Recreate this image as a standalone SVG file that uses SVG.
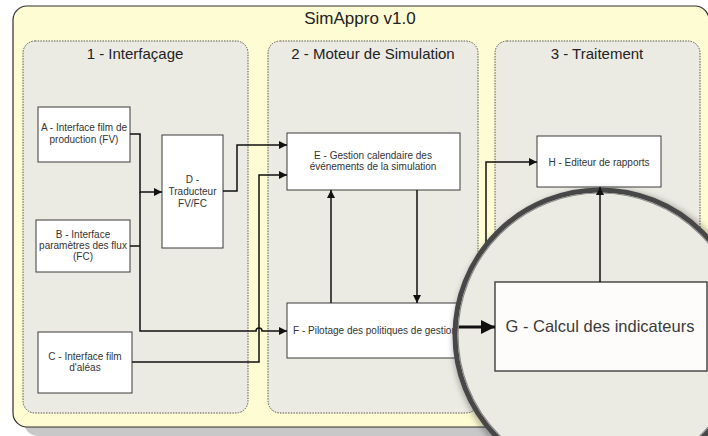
<svg xmlns="http://www.w3.org/2000/svg" width="708" height="436" viewBox="0 0 708 436">
  <defs>
    <style>
      .panel { fill: #ecebe3; stroke: #555; stroke-width: 1; stroke-dasharray: 1.5 1.2; }
      .box { fill: #ffffff; stroke: #3a3a3a; stroke-width: 1; }
      .ptitle { font-family: "Liberation Sans", Arial, sans-serif; font-size: 15px; fill: #222; text-anchor: middle; }
      .btxt { font-family: "Liberation Sans", Arial, sans-serif; font-size: 10px; fill: #333; text-anchor: middle; }
      .btxt.left { text-anchor: start; }
      .conn { fill: none; stroke: #111; stroke-width: 1.5; }
    </style>
    <marker id="arr" viewBox="0 0 10 10" refX="10" refY="5" markerWidth="10" markerHeight="8" markerUnits="userSpaceOnUse" orient="auto">
      <path d="M0,0 L10,5 L0,10 z" fill="#111"/>
    </marker>
    <marker id="bigarr" viewBox="0 0 10 10" refX="10" refY="5" markerWidth="16" markerHeight="14" markerUnits="userSpaceOnUse" orient="auto">
      <path d="M0,0 L10,5 L0,10 z" fill="#111"/>
    </marker>
    <clipPath id="lens">
      <circle cx="600" cy="335" r="145"/>
    </clipPath>
    <linearGradient id="shadowGrad" x1="0" y1="0" x2="0" y2="1">
      <stop offset="0" stop-color="#9a9a9a"/>
      <stop offset="1" stop-color="#c8c8c8"/>
    </linearGradient>
    <filter id="blur" x="-20%" y="-20%" width="140%" height="140%">
      <feGaussianBlur stdDeviation="3"/>
    </filter>
  </defs>

  <rect x="0" y="0" width="708" height="436" fill="#ffffff"/>

  <!-- outer frame with shadow -->
  <g id="frame">
    <rect x="24" y="16" width="696" height="420" rx="14" fill="url(#shadowGrad)"/>
    <rect x="13" y="6" width="696" height="421" rx="14" fill="#fefcd3" stroke="#2e2e2e" stroke-width="1.2"/>
    <text x="360" y="24" font-family="'Liberation Sans', Arial, sans-serif" font-size="17" fill="#222" text-anchor="middle">SimAppro v1.0</text>
  </g>

  <g id="panel1">
    <rect class="panel" x="23" y="41" width="225" height="372" rx="12"/>
    <text class="ptitle" x="135" y="59">1 - Interfaçage</text>
  </g>
  <g id="panel2">
    <rect class="panel" x="268" y="41" width="210" height="372" rx="12"/>
    <text class="ptitle" x="373" y="59">2 - Moteur de Simulation</text>
  </g>
  <g id="panel3">
    <rect class="panel" x="495" y="41" width="205" height="372" rx="12"/>
    <text class="ptitle" x="597" y="59">3 - Traitement</text>
  </g>

  <g id="nodeA">
    <rect class="box" x="38" y="107" width="92" height="55"/>
    <text class="btxt" x="84" y="131">A - Interface film de</text>
    <text class="btxt" x="84" y="143">production (FV)</text>
  </g>
  <g id="nodeB">
    <rect class="box" x="36" y="220" width="94" height="52"/>
    <text class="btxt" x="83" y="238">B - Interface</text>
    <text class="btxt" x="83" y="249">paramètres des flux</text>
    <text class="btxt" x="83" y="260">(FC)</text>
  </g>
  <g id="nodeC">
    <rect class="box" x="38" y="332" width="94" height="61"/>
    <text class="btxt" x="85" y="360">C - Interface film</text>
    <text class="btxt" x="85" y="371">d'aléas</text>
  </g>
  <g id="nodeD">
    <rect class="box" x="162" y="135" width="61" height="113"/>
    <text class="btxt" x="192.5" y="183">D -</text>
    <text class="btxt" x="192.5" y="195">Traducteur</text>
    <text class="btxt" x="192.5" y="207">FV/FC</text>
  </g>
  <g id="nodeE">
    <rect class="box" x="287" y="133" width="173" height="57"/>
    <text class="btxt" x="373" y="159">E - Gestion calendaire des</text>
    <text class="btxt" x="373" y="170">événements de la simulation</text>
  </g>
  <g id="nodeF">
    <rect class="box" x="287" y="303" width="183" height="55"/>
    <text class="btxt left" x="293" y="334">F - Pilotage des politiques de gestion</text>
  </g>
  <g id="nodeH">
    <rect class="box" x="537" y="136" width="124" height="51"/>
    <text class="btxt" x="599" y="166">H - Editeur de rapports</text>
  </g>

  <g id="connectors">
    <path class="conn" d="M130,134 H140 V192 H162" marker-end="url(#arr)"/>
    <path class="conn" d="M130,246 H140"/>
    <path class="conn" d="M140,192 V331 H256 a3,3 0 0 1 6,0 H287" marker-end="url(#arr)"/>
    <path class="conn" d="M223,191 H237 V145 H287" marker-end="url(#arr)"/>
    <path class="conn" d="M132,362 H259 V175 H287" marker-end="url(#arr)"/>
    <path class="conn" d="M331,303 V190" marker-end="url(#arr)"/>
    <path class="conn" d="M417,190 V303" marker-end="url(#arr)"/>
    <path class="conn" d="M486,260 V162 H537" marker-end="url(#arr)"/>
  </g>

  <!-- magnifier lens -->
  <g id="magnifier">
    <circle cx="603" cy="339" r="147" fill="none" stroke="#000" stroke-opacity="0.35" stroke-width="6" filter="url(#blur)"/>
    <g clip-path="url(#lens)">
      <circle cx="600" cy="335" r="145" fill="#ebebe3"/>
      <g id="nodeG">
        <rect x="495" y="282" width="212" height="89" fill="#fdfcfb" stroke="#4a4a4a" stroke-width="1.5"/>
        <text x="600" y="332" font-family="'Liberation Sans', Arial, sans-serif" font-size="16.5" fill="#3a3a3a" text-anchor="middle">G - Calcul des indicateurs</text>
      </g>
      <path d="M440,327 H495" fill="none" stroke="#111" stroke-width="3" marker-end="url(#bigarr)"/>
    </g>
    <circle cx="600" cy="335" r="145" fill="none" stroke="#474747" stroke-width="5"/>
    <circle cx="600" cy="335" r="142" fill="none" stroke="#8a8a8a" stroke-width="1.2"/>
  </g>

  <g id="connectors-top">
    <path class="conn" d="M600,282 V187" marker-end="url(#arr)"/>
  </g>
</svg>
